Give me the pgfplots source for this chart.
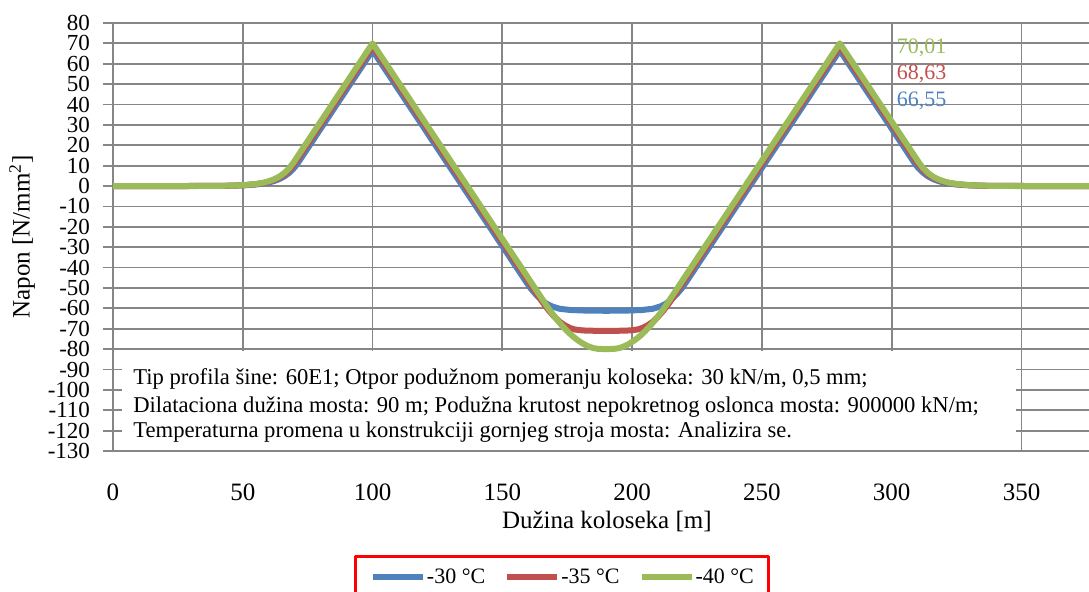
\documentclass[border=0pt]{standalone}
\usepackage{fontspec}
\setmainfont{Liberation Serif}
\usepackage{pgfplots}
\pgfplotsset{compat=1.18}
\definecolor{gridgray}{RGB}{134,134,134}
\definecolor{s30}{HTML}{4F81BD}
\definecolor{s35}{HTML}{C0504D}
\definecolor{s40}{HTML}{9BBB59}
\begin{document}
\begin{tikzpicture}
\path[use as bounding box] (0,0) rectangle (544.5pt,295.5pt);
\begin{axis}[
 at={(56.5pt,70pt)}, anchor=south west,
 scale only axis, width=488pt, height=214pt,
 xmin=0, xmax=376, ymin=-130, ymax=80,
 axis lines*=left,
 axis line style={draw=gridgray, line width=0.9pt},
 xtick={0,50,...,350}, ytick={-130,-120,...,80},
 grid=major, major grid style={draw=gridgray, line width=0.9pt},
 tick align=outside, major tick length=5pt,
 xtick style={draw=none},
 ytick style={draw=gridgray, line width=0.9pt},
 /pgf/number format/assume math mode=true,
 yticklabel style={font=\fontsize{11.5}{11.5}\selectfont, xshift=-3pt},
 xticklabel style={font=\fontsize{12.5}{12.5}\selectfont, yshift=-8pt},
 xlabel={Dužina koloseka [m]}, ylabel={Napon [N/mm\textsuperscript{2}]},
 xlabel style={font=\fontsize{12.5}{12.5}\selectfont, at={(axis description cs:0.506,-0.1636)}, anchor=center},
 ylabel style={font=\fontsize{12.5}{12.5}\selectfont, at={(axis description cs:-0.0932,0.5)}, anchor=center},
 legend style={at={(axis description cs:0.4605,-0.243)}, anchor=north, legend columns=3, draw=red, line width=1.5pt,
   font=\fontsize{11}{11}\selectfont, nodes={inner xsep=0.5pt},
   /tikz/every even column/.append style={column sep=9pt}, inner xsep=7pt, inner ysep=4pt},
 legend image code/.code={\draw[#1, line width=3pt] (0pt,0pt) -- (25pt,0pt);},
 line join=round,
]
\fill[white] (axis cs:3.5,-80.9) rectangle (axis cs:347.7,-129.5);
\addplot[s30, line width=3pt] coordinates {(0,0)(35,0.03)(40,0.06)(45,0.14)(50,0.33)(55,0.76)(58,1.25)(60,1.74)(62,2.43)(64,3.39)(66,4.73)(68,6.60)(70,9.21)(71.33,11.5)(100,66.55)(159,-46.73)(161,-50.4)(163,-53.3)(165,-55.8)(167,-57.7)(169,-59.0)(172,-60.2)(176,-60.8)(182,-61.1)(190,-61.2)(198,-61.1)(204,-60.8)(208,-60.2)(211,-59.0)(213,-57.7)(215,-55.8)(217,-53.3)(219,-50.4)(221,-46.73)(280,66.55)(308.67,11.5)(310,9.21)(312,6.60)(314,4.73)(316,3.39)(318,2.43)(320,1.74)(322,1.25)(325,0.76)(330,0.33)(335,0.14)(340,0.06)(345,0.03)(380,0)};
\addlegendentry{-30 °C}
\addplot[s35, line width=3pt] coordinates {(0,0)(35,0.03)(40,0.07)(45,0.17)(50,0.39)(55,0.91)(58,1.49)(60,2.09)(62,2.91)(64,4.06)(66,5.67)(68,7.92)(70.24,11.5)(100,68.63)(164,-54.25)(166,-57.9)(168,-61.2)(170,-64.1)(172,-66.5)(174,-68.3)(176,-69.6)(178,-70.4)(181,-70.85)(185,-71)(195,-71)(199,-70.85)(202,-70.4)(204,-69.6)(206,-68.3)(208,-66.5)(210,-64.1)(212,-61.2)(214,-57.9)(216,-54.25)(280,68.63)(309.76,11.5)(312,7.92)(314,5.67)(316,4.06)(318,2.91)(320,2.09)(322,1.49)(325,0.91)(330,0.39)(335,0.17)(340,0.07)(345,0.03)(380,0)};
\addlegendentry{-35 °C}
\addplot[s40, line width=3pt] coordinates {(0,0)(30,0.01)(35,0.04)(40,0.08)(45,0.19)(50,0.44)(55,1.02)(58,1.68)(60,2.35)(62,3.28)(64,4.57)(66,6.39)(68,8.91)(69.53,11.5)(100,70.01)(167,-58.63)(169,-62.2)(171,-65.5)(173,-68.5)(175,-71.2)(177,-73.6)(179,-75.6)(181,-77.3)(183,-78.6)(185,-79.5)(187,-79.9)(190,-80)(193,-79.9)(195,-79.5)(197,-78.6)(199,-77.3)(201,-75.6)(203,-73.6)(205,-71.2)(207,-68.5)(209,-65.5)(211,-62.2)(213,-58.63)(280,70.01)(310.47,11.5)(312,8.91)(314,6.39)(316,4.57)(318,3.28)(320,2.35)(322,1.68)(325,1.02)(330,0.44)(335,0.19)(340,0.08)(345,0.04)(350,0.01)(380,0)};
\addlegendentry{-40 °C}
\node[anchor=west, text=s40, font=\fontsize{11}{11}\selectfont, inner sep=0pt] at (axis cs:301.8,67.7) {70,01};
\node[anchor=west, text=s35, font=\fontsize{11}{11}\selectfont, inner sep=0pt] at (axis cs:301.8,55.0) {68,63};
\node[anchor=west, text=s30, font=\fontsize{11}{11}\selectfont, inner sep=0pt] at (axis cs:301.8,41.7) {66,55};
\node[anchor=base west, inner sep=0pt, font=\fontsize{11.3}{11.3}\selectfont] at (axis cs:7.7,-97.6) {Tip profila šine: 60E1; Otpor podužnom pomeranju koloseka: 30 kN/m, 0,5 mm;};
\node[anchor=base west, inner sep=0pt, font=\fontsize{11.3}{11.3}\selectfont] at (axis cs:7.7,-110.9) {Dilataciona dužina mosta: 90 m; Podužna krutost nepokretnog oslonca mosta: 900000 kN/m;};
\node[anchor=base west, inner sep=0pt, font=\fontsize{11.3}{11.3}\selectfont] at (axis cs:7.7,-123.6) {Temperaturna promena u konstrukciji gornjeg stroja mosta: Analizira se.};
\end{axis}
\end{tikzpicture}
\end{document}
